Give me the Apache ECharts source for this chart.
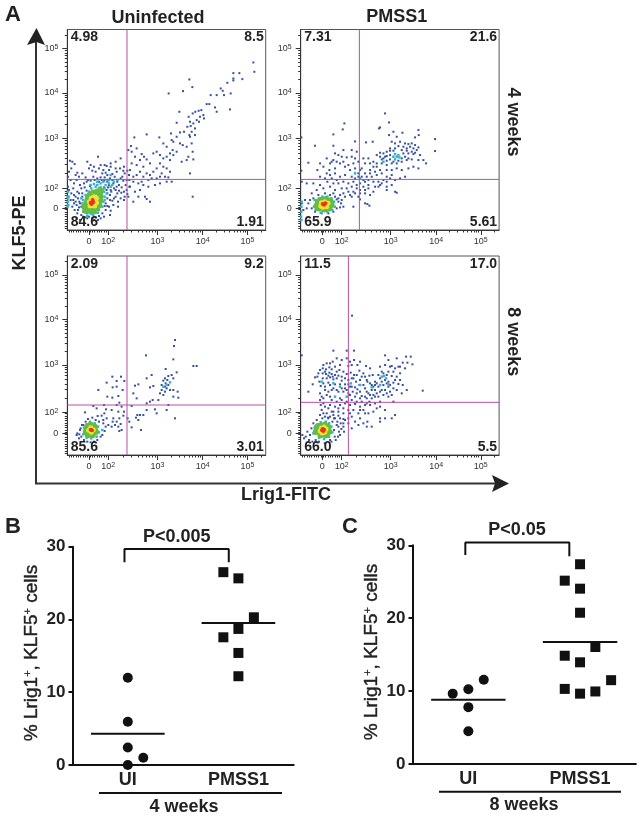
<!DOCTYPE html>
<html><head><meta charset="utf-8">
<script src="https://cdn.jsdelivr.net/npm/echarts@6/dist/echarts.min.js"></script>
<style>html,body{margin:0;padding:0;background:#fff}#c{width:641px;height:818px;filter:blur(0.35px)}</style></head>
<body><div id="c"></div>
<script>
// ---------- Panel A: flow cytometry, values are display channels on the biexponential scale
const p1Blue=[[558,503],[561,475],[525,453],[516,471],[498,471],[498,455],[498,449],[480,442],[366,452],[375,429],[347,417],[304,410],[460,425],[466,418],[470,405],[448,405],[430,405],[490,410],[488,362],[443,368],[448,355],[418,378],[426,378],[402,360],[394,358],[384,355],[376,350],[364,340],[368,325],[336,355],[328,322],[408,345],[398,340],[388,330],[378,320],[370,312],[360,310],[410,335],[395,325],[383,305],[373,295],[366,285],[350,295],[338,293],[328,280],[311,290],[313,270],[318,265],[338,260],[346,255],[358,250],[368,280],[383,285],[373,260],[376,235],[363,220],[378,212],[358,210],[343,205],[316,240],[308,230],[298,250],[288,260],[276,278],[238,287],[201,278],[191,252],[183,240],[193,235],[208,245],[223,228],[230,220],[238,212],[218,210],[203,220],[193,200],[208,195],[228,190],[248,200],[258,230],[268,235],[278,225],[288,215],[298,220],[308,210],[318,225],[328,235],[278,200],[288,190],[298,185],[308,175],[268,185],[258,175],[248,165],[238,170],[228,160],[218,175],[208,165],[198,160],[188,180],[278,160],[293,160],[303,158],[268,155],[253,155],[283,170],[243,150],[223,145],[313,145],[298,145],[278,140],[263,135],[243,130],[228,135],[213,140],[198,145],[188,130],[203,115],[218,120],[233,100],[248,85],[238,93],[213,100],[198,85],[183,100],[376,100],[368,170],
[8,208],[15,205],[22,198],[60,205],[92,220],[70,195],[100,195],[112,195],[118,192],[130,200],[145,205],[160,215],[170,190],[5,175],[12,185],[25,165],[30,172],[65,185],[75,178],[85,175],[105,170],[115,172],[125,180],[135,168],[148,175],[158,185],[172,170],[180,178],[185,165],[2,160],[10,150],[28,150],[55,158],[62,150],[78,160],[90,155],[95,145],[103,150],[112,158],[120,145],[128,155],[135,150],[142,160],[150,145],[160,155],[168,148],[178,150],[186,150],[2,130],[5,120],[18,125],[30,115],[38,135],[45,110],[52,128],[58,118],[68,132],[110,128],[118,120],[125,135],[132,115],[140,125],[148,130],[155,118],[163,128],[170,115],[178,120],[186,130],[4,100],[10,90],[20,105],[25,85],[32,95],[38,80],[45,100],[120,95],[128,105],[135,88],[145,100],[152,85],[160,95],[172,100],[180,108],[15,70],[22,60],[30,50],[35,68],[42,45],[48,55],[55,38],[65,40],[75,35],[85,38],[95,42],[105,50],[115,60],[120,72],[130,58],[100,35],[28,35],[38,30],
[35,110],[42,125],[50,140],[58,145],[70,148],[82,150],[100,158],[110,148],[122,128],[130,120],[118,110],[128,90],[115,80],[125,70],[112,72],[42,70],[36,85],[28,75],[32,60],[48,40],[60,35],[80,30],[92,30],[110,40],[20,80],[12,110],[25,100],[18,90],[138,140],[145,120],[155,135],[165,160],[175,135],[150,110],[162,112],[140,95],[170,90],[138,75],[152,70],[128,45],[20,140],[35,160],[45,170],[80,190],[95,185],[108,180],[120,165],[130,190],[145,185],[168,178]];
const p1Cyan=[[55,60],[60,50],[50,75],[48,90],[55,105],[65,115],[72,125],[85,130],[95,125],[105,120],[105,100],[108,85],[100,72],[95,60],[85,52],[72,48],[100,140],[115,135],[130,130],[90,145],[125,150],[2,95],[3,75],[1,70],[2,85],[1,100],[2,115],
[90,135],[100,128],[110,115],[112,100],[112,125],[120,110],[80,138],[70,135],[45,80],[42,95],[50,60],[60,42],[78,45],[92,52],[105,70],[112,90],[125,140],[135,135],[140,145],[108,145],[118,150],[130,165],[150,150]];
const p1Green=[[60,65],[58,80],[62,95],[68,105],[78,112],[90,115],[98,105],[98,90],[95,75],[88,65],[78,58],[68,58],[52,70],[55,58],[100,118]];
const p1Yellow=[[68,72],[66,85],[72,95],[80,100],[88,95],[88,82],[82,72]];
const p1Red=[[73,78],[78,84],[70,82],[76,90]];

const p2Blue=[[253,350],[131,320],[126,302],[265,323],[235,305],[238,308],[353,300],[98,287],[2,278],[403,273],[403,237],[354,285],[343,278],[305,292],[288,280],[278,295],[265,285],[216,265],[196,263],[163,266],[43,253],[98,253],[273,265],[283,260],[298,265],[313,260],[323,258],[333,260],[343,255],[328,250],[338,245],[348,240],[318,245],[308,250],[283,245],[268,245],[258,235],[248,230],[238,232],[228,225],[238,220],[253,220],[268,225],[308,230],[323,230],[338,228],[358,225],[368,210],[376,200],[353,210],[333,212],[318,210],[303,205],[288,200],[273,200],[258,195],[243,200],[228,200],[218,205],[208,200],[193,200],[323,185],[338,190],[353,185],[303,180],[288,185],[273,180],[258,180],[238,180],[223,175],[208,180],[193,170],[183,185],[103,230],[113,225],[123,220],[138,218],[153,220],[163,215],[98,210],[108,205],[118,200],[88,200],[58,200],[23,202],[50,180],[86,180],[103,185],[133,190],[148,180],[163,185],[173,170],[178,180],[88,165],[103,170],[118,160],[133,165],[153,160],[163,155],[173,160],[183,160],[58,160],[73,155],[2,178],[3,145],[18,140],[38,140],[80,145],[98,140],[113,140],[128,145],[143,140],[158,145],[178,140],[193,145],[203,150],[218,145],[233,145],[243,140],[258,145],[268,155],[283,150],[298,155],[313,160],[68,125],[88,130],[103,120],[123,125],[138,125],[153,130],[168,125],[188,130],[203,125],[223,130],[238,135],[258,130],[273,135],[283,115],[288,112],[258,120],[178,110],[163,110],[148,105],[193,110],[208,105],[173,100],[178,92],[158,70],[193,80],[206,73],[200,78],[153,100],[133,100],[123,90],[113,95],[118,105],[28,90],[33,65],[23,80],[38,95],[43,55],[53,105],[63,50],[73,110],[83,50],[88,105],[98,55],[103,100],[108,65],[113,85],[121,80],[3,80],[8,60],[13,90],[18,65],
[248,215],[258,208],[268,212],[278,205],[293,208],[303,215],[313,220],[323,215],[333,235],[343,232],[353,248],[318,238],[303,240],[293,252],[278,238],[268,238],[258,222],[243,212],[228,190],[218,190],[208,170],[198,160],[188,150],[213,160],[228,165],[243,170],[258,160],[273,165],[248,150],[233,130],[218,115],[203,135],[193,120],[178,120],[168,135],[158,115],[143,115],[128,110],[108,150],[93,155],[78,170],[68,190],[78,215],[93,205],[128,205],[143,195],[158,200],[173,205],[188,215],[203,215],[168,235],[153,240],[128,240],[33,110],[48,120],[58,135],[98,110],[108,92],[128,70],[118,68]];
const p2Cyan=[[283,228],[288,220],[293,225],[278,220],[296,218],[283,212],[40,70],[42,90],[45,60],[55,95],[65,100],[80,100],[92,95],[100,85],[102,70],[95,60],[80,55],[60,52],[2,55],[2,30],[1,40],[163,170],[178,155],[248,205],[2,70],[3,85]];
const p2Green=[[48,72],[52,85],[62,90],[75,92],[88,88],[92,76],[85,65],[70,62],[55,65]];
const p2Yellow=[[60,72],[62,82],[72,85],[82,80],[78,70],[66,68]];
const p2Red=[[70,76],[74,80],[66,78]];

const p3Blue=[[323,345],[320,327],[236,299],[318,287],[378,267],[388,267],[295,258],[328,248],[313,240],[303,237],[293,230],[318,230],[300,225],[288,223],[295,215],[283,210],[303,210],[293,205],[298,200],[308,195],[318,195],[283,195],[278,185],[293,190],[331,190],[288,180],[318,175],[333,172],[273,165],[303,150],[298,135],[323,110],[253,240],[238,230],[213,212],[203,208],[258,207],[248,203],[198,185],[208,170],[238,155],[248,160],[256,165],[193,147],[263,137],[268,125],[238,135],[228,120],[218,120],[210,120],[206,112],[186,100],[193,83],[213,105],[221,75],[181,110],[135,235],[161,235],[148,222],[171,222],[118,217],[136,203],[148,205],[166,195],[93,195],[120,175],[153,177],[135,172],[156,157],[148,150],[110,150],[78,147],[88,140],[163,145],[116,137],[133,135],[153,130],[170,130],[53,128],[111,125],[103,118],[91,117],[118,110],[138,110],[156,110],[168,118],[108,105],[136,100],[148,100],[160,93],[108,95],[133,85],[153,85],[163,75],[156,72],[123,90],[143,90],[28,60],[38,75],[36,62],[48,90],[68,100],[30,65],[35,50],[40,80],[44,90],[50,45],[55,100],[62,108],[70,38],[80,40],[90,45],[95,100],[105,60],[112,72],[115,85],[100,55],[42,55],[60,40],[85,105],[75,112]];
const p3Cyan=[[48,62],[50,82],[58,92],[68,98],[82,95],[92,85],[95,68],[88,55],[72,50],[58,52],[105,75],[298,210],[308,218],[288,205]];
const p3Green=[[56,70],[60,84],[70,90],[82,84],[85,70],[75,60],[62,60]];
const p3Yellow=[[64,74],[70,82],[78,76],[72,68]];
const p3Red=[[70,76],[74,74]];

const p4Blue=[[154,418],[98,313],[138,313],[160,313],[3,299],[253,299],[316,295],[330,295],[288,290],[335,272],[320,277],[306,277],[366,193],[263,285],[293,265],[283,260],[273,267],[68,270],[78,275],[88,275],[96,280],[108,290],[123,285],[138,290],[148,280],[160,285],[178,280],[66,260],[76,257],[86,263],[93,257],[103,265],[118,270],[143,267],[153,270],[170,270],[196,267],[208,260],[43,233],[50,235],[66,245],[76,243],[86,247],[93,243],[103,240],[116,255],[128,250],[138,243],[150,247],[160,240],[176,253],[188,245],[36,212],[56,220],[66,230],[78,230],[88,233],[98,227],[108,230],[123,223],[133,212],[143,212],[153,230],[166,220],[178,225],[193,235],[206,238],[216,240],[60,207],[68,215],[83,217],[103,212],[118,212],[133,200],[148,205],[163,203],[176,210],[188,210],[200,220],[213,210],[223,220],[23,190],[58,185],[73,195],[83,190],[98,200],[113,190],[128,190],[143,185],[156,190],[170,197],[183,177],[198,190],[213,195],[58,165],[68,170],[88,175],[118,170],[148,180],[163,175],[178,170],[193,175],[208,180],[223,175],[238,265],[253,270],[268,265],[298,265],[313,260],[233,240],[248,245],[258,240],[273,237],[288,235],[298,225],[238,230],[253,225],[263,220],[278,217],[293,213],[306,210],[318,195],[223,210],[233,205],[248,210],[263,205],[278,200],[288,195],[303,185],[223,195],[238,190],[253,195],[268,190],[218,180],[233,175],[248,180],[263,175],[278,160],[238,160],[223,155],[198,155],[206,160],[60,150],[73,145],[88,150],[103,145],[118,150],[133,155],[148,150],[163,153],[178,145],[193,150],[208,150],[238,145],[253,135],[63,135],[78,125],[93,130],[113,130],[128,125],[148,125],[178,135],[193,125],[238,110],[238,100],[253,110],[273,110],[283,120],[58,120],[73,115],[88,115],[103,110],[118,110],[133,105],[153,115],[178,110],[188,95],[198,85],[213,85],[200,100],[143,95],[153,80],[128,95],[113,85],[28,60],[32,80],[38,95],[45,45],[48,105],[55,40],[65,110],[72,35],[82,112],[88,45],[95,100],[102,55],[108,90],[115,70],[122,78],[10,50],[5,60],[15,55],[100,75],[118,60],[128,85],[130,70],
[53,245],[58,255],[73,250],[83,238],[96,235],[108,250],[113,238],[123,235],[133,230],[143,225],[158,230],[168,240],[183,235],[198,225],[208,215],[218,205],[228,215],[243,220],[258,215],[268,210],[283,225],[243,250],[263,250],[278,250],[298,245],[73,205],[88,210],[93,195],[108,195],[123,200],[138,195],[153,205],[168,185],[178,190],[193,200],[203,185],[213,170],[228,185],[243,195],[258,185],[273,180],[63,175],[78,180],[93,165],[108,160],[123,165],[138,160],[153,165],[168,160],[183,160],[198,170],[68,155],[83,140],[98,130],[113,140],[128,140],[143,135],[158,135],[173,125],[188,135],[203,125],[218,130],[228,140],[68,125],[83,110],[98,120],[113,118],[128,108],[143,110],[163,100],[173,90],[20,70],[25,45],[35,40],[92,40],[105,45],[112,55],[120,95],[110,100],[100,110]];
const p4Cyan=[[243,235],[250,237],[256,230],[238,210],[263,212],[213,203],[178,210],[98,215],[63,220],[103,175],[138,175],[38,65],[42,82],[50,92],[60,98],[75,100],[85,95],[92,85],[95,68],[85,55],[70,48],[55,52],[150,215],[118,205]];
const p4Green=[[46,70],[50,84],[60,88],[72,90],[82,84],[85,70],[76,60],[60,60]];
const p4Yellow=[[58,72],[62,80],[70,84],[76,78],[72,68],[64,66]];
const p4Red=[[66,78],[68,72],[64,74],[70,76]];

const xTickChannels=[65,123,270,406,540];
const yTickChannelsTop=[65,125,275,412,545];
const yTickChannelsBottom=[65,128,270,407,540];
const tickLabels=['0','10{s|2}','10{s|3}','10{s|4}','10{s|5}'];
const gateX=[179,176,179,143];
const gateY=[152,152,150,158];
const quadrantValues=[['4.98','8.5','84.6','1.91'],['7.31','21.6','65.9','5.61'],['2.09','9.2','85.6','3.01'],['11.5','17.0','66.0','5.5']];

// ---------- Panels B, C: dot plots
const groupNames=['UI','PMSS1'];
const bUI=[[1,12],[1,5.95],[1,2.4],[1.14,1],[1,0]];
const bPMSS1=[[1.864,26.5],[2,25.65],[2.14,20.3],[2,18.7],[1.864,17.55],[2,15.4],[2,12.2]];
const bMeans=[4.3,19.5];
const cUI=[[0.86,9.65],[1,10.25],[1.138,11.55],[1,7.8],[1,4.5]];
const cPMSS1=[[2,27.4],[1.863,25.15],[2,24.05],[2,20.75],[2.137,16.05],[1.863,14.85],[2,13.95],[2.278,11.5],[1.863,10.3],[2.137,9.95],[2,9.65]];
const cMeans=[8.8,16.75];
const yTicksDot=[0,10,20,30];

// ---------- Layout
const colors={blue:'#35519f',cyan:'#3db0c8',green:'#63bd45',yellow:'#eee32f',red:'#e8351f'};
const panels=[
 {l:67.3,t:29.5,w:198.4,h:200.5,ymax:602,yt:yTickChannelsTop,d:[p1Blue,p1Cyan,p1Green,p1Yellow,p1Red]},
 {l:300.7,t:29.5,w:198.4,h:200.5,ymax:602,yt:yTickChannelsTop,d:[p2Blue,p2Cyan,p2Green,p2Yellow,p2Red]},
 {l:67.3,t:256,w:198.4,h:199,ymax:597,yt:yTickChannelsBottom,d:[p3Blue,p3Cyan,p3Green,p3Yellow,p3Red]},
 {l:300.7,t:256,w:198.4,h:199,ymax:597,yt:yTickChannelsBottom,d:[p4Blue,p4Cyan,p4Green,p4Yellow,p4Red]}
];
function minor(m,max){
  const o=[];
  for(let c=5;c<m[1];c+=7)o.push(c);
  for(let i=1;i<m.length-1;i++)for(let k=2;k<10;k++)o.push(m[i]+(m[i+1]-m[i])*Math.log10(k));
  for(let k=2;k<7;k++){const v=m[4]+(m[4]-m[3])*Math.log10(k);if(v<max)o.push(v);}
  return o;
}
const XMAX=595;
const grid=[],xAxis=[],yAxis=[],series=[],graphic=[];
const lineStyle={color:'#333',width:1};
panels.forEach((p,i)=>{
  grid.push({left:p.l,top:p.t,width:p.w,height:p.h,show:true,backgroundColor:'transparent',borderColor:'#555',borderWidth:1});
  xAxis.push({gridIndex:i,type:'value',min:0,max:XMAX,position:'bottom',splitLine:{show:false},axisLine:{show:true,onZero:false,lineStyle},axisLabel:{show:false},
    axisTick:{show:true,length:2.5,lineStyle,customValues:minor(xTickChannels,XMAX)}});
  yAxis.push({gridIndex:i,type:'value',min:0,max:p.ymax,position:'left',splitLine:{show:false},axisLine:{show:true,onZero:false,lineStyle},axisLabel:{show:false},
    axisTick:{show:true,length:2.5,lineStyle,customValues:minor(p.yt,p.ymax)}});
  const layers=[['rect',2,colors.blue],['rect',2.5,colors.cyan],['circle',6.5,colors.green],['circle',5,colors.yellow],['circle',4,colors.red]];
  layers.forEach((ly,j)=>series.push({type:'scatter',xAxisIndex:i,yAxisIndex:i,data:p.d[j],symbol:ly[0],symbolSize:ly[1],itemStyle:{color:ly[2],opacity:1},silent:true,z:3+j}));
  const gate={type:'line',xAxisIndex:i,yAxisIndex:i,showSymbol:false,silent:true,z:9,lineStyle:{color:'#b84fa8',width:1}};
  series.push({...gate,data:[[gateX[i],0],[gateX[i],p.ymax]]});
  series.push({...gate,data:[[0,gateY[i]],[XMAX,gateY[i]]]});
  const q=quadrantValues[i],f='bold 14px "Liberation Sans",Arial,sans-serif';
  [[p.l+3.5,p.t+8,'left',q[0]],[p.l+p.w-2,p.t+8,'right',q[1]],[p.l+3.5,p.t+p.h-7.5,'left',q[2]],[p.l+p.w-2,p.t+p.h-7.5,'right',q[3]]].forEach(a=>
    graphic.push({type:'text',x:a[0],y:a[1],z:20,style:{text:a[3],font:f,fill:'#222',align:a[2],verticalAlign:'middle'}}));
});
panels.forEach((p,i)=>{
  const g=i+4, lab={show:true,color:'#333',fontSize:9,fontFamily:'"Liberation Sans",Arial,sans-serif',rich:{s:{fontSize:7,verticalAlign:'top',color:'#333',padding:[0,0,3,0]}}};
  grid.push({left:p.l,top:p.t,width:p.w,height:p.h});
  xAxis.push({gridIndex:g,type:'value',min:0,max:XMAX,position:'bottom',splitLine:{show:false},axisLine:{show:false},
    axisTick:{show:true,length:5,lineStyle,customValues:xTickChannels},
    axisLabel:{...lab,margin:7,customValues:xTickChannels,formatter:(v)=>tickLabels[xTickChannels.indexOf(v)]}});
  yAxis.push({gridIndex:g,type:'value',min:0,max:p.ymax,position:'left',splitLine:{show:false},axisLine:{show:false},
    axisTick:{show:true,length:5,lineStyle,customValues:p.yt},
    axisLabel:{...lab,margin:9,customValues:p.yt,formatter:(v)=>tickLabels[p.yt.indexOf(v)]}});
});

const FONT='"Liberation Sans",Arial,sans-serif';
const dots=[
 {l:72.5,t:546.7,w:221.2,h:218.3,ui:bUI,pm:bPMSS1,means:bMeans,br:[[0.97,27.85],[0.97,29.7],[1.913,29.7],[1.913,27.85]]},
 {l:412.5,t:545.3,w:223.4,h:218.7,ui:cUI,pm:cPMSS1,means:cMeans,br:[[0.973,28.67],[0.973,30.4],[1.904,30.4],[1.904,28.5]]}
];
dots.forEach((d,k)=>{
  const g=8+k, black='#111';
  grid.push({left:d.l,top:d.t,width:d.w,height:d.h});
  xAxis.push({gridIndex:g,type:'value',min:0.5,max:2.5,position:'bottom',splitLine:{show:false},axisLine:{show:true,onZero:false,lineStyle:{color:black,width:2}},
    axisTick:{show:false},axisLabel:{show:true,margin:6,color:'#222',fontWeight:'bold',fontSize:18,fontFamily:FONT,customValues:[1,2],formatter:v=>groupNames[v-1]}});
  yAxis.push({gridIndex:g,type:'value',min:0,max:30,interval:10,position:'left',splitLine:{show:false},axisLine:{show:true,onZero:false,lineStyle:{color:black,width:2}},
    axisTick:{show:true,length:4,lineStyle:{color:black,width:2},customValues:yTicksDot},axisLabel:{color:'#222',fontWeight:'bold',fontSize:17,margin:7,fontFamily:FONT,customValues:yTicksDot}});
  series.push({type:'scatter',xAxisIndex:g,yAxisIndex:g,data:d.ui,symbol:'circle',symbolSize:10,itemStyle:{color:black,opacity:1},clip:false,silent:true,z:5});
  series.push({type:'scatter',xAxisIndex:g,yAxisIndex:g,data:d.pm,symbol:'rect',symbolSize:10,itemStyle:{color:black,opacity:1},clip:false,silent:true,z:5});
  const ln={type:'line',xAxisIndex:g,yAxisIndex:g,showSymbol:false,silent:true,clip:false,z:6,lineStyle:{color:black,width:2}};
  series.push({...ln,data:[[0.667,d.means[0]],[1.333,d.means[0]]]});
  series.push({...ln,data:[[1.667,d.means[1]],[2.333,d.means[1]]]});
  series.push({...ln,data:d.br});
});

// ---------- Text and frame annotation
function T(text,x,y,size,opt){opt=opt||{};graphic.push({type:'text',x,y,rotation:opt.r||0,z:20,style:{text,font:(opt.w||'bold')+' '+size+'px '+FONT,fill:opt.c||'#222',align:'center',verticalAlign:'middle',rich:opt.rich}});}
T('A',13,15,22);T('B',13,527,22);T('C',350,527,22);
T('Uninfected',158,18,18);T('PMSS1',396.7,17,18);
T('4 weeks',512.7,122,18,{r:-Math.PI/2});T('8 weeks',512.7,341.7,18,{r:-Math.PI/2});
T('KLF5-PE',20,233,18,{r:Math.PI/2});T('Lrig1-FITC',286,495,18);
T('P<0.005',176.7,537,18);T('P<0.05',517,530,18);
T('4 weeks',184,807,18);T('8 weeks',524,805,18);
const supRich={s:{font:'normal 11px '+FONT,fill:'#222',verticalAlign:'top',stroke:'#222',lineWidth:0.3},b:{font:'normal 19px '+FONT,fill:'#222',stroke:'#222',lineWidth:0.4}};
T('{b|% Lrig1}{s|+}{b|, KLF5}{s|+}{b| cells}',32,653,19,{r:Math.PI/2,w:'normal',rich:supRich});
T('{b|% Lrig1}{s|+}{b|, KLF5}{s|+}{b| cells}',372,652,19,{r:Math.PI/2,w:'normal',rich:supRich});
const S={stroke:'#333',lineWidth:2};
graphic.push({type:'polyline',z:15,shape:{points:[[36,42],[36,483.5],[495,483.5]]},style:{...S,fill:'none'}});
graphic.push({type:'polygon',z:15,shape:{points:[[36.5,28],[45,45],[36.5,42],[27,45]]},style:{fill:'#222'}});
graphic.push({type:'polygon',z:15,shape:{points:[[509,483.5],[492,475],[495,483.5],[492,492]]},style:{fill:'#222'}});
graphic.push({type:'line',z:15,shape:{x1:99,y1:793,x2:282,y2:793},style:{stroke:'#111',lineWidth:2}});
graphic.push({type:'line',z:15,shape:{x1:439,y1:791.7,x2:621,y2:791.7},style:{stroke:'#111',lineWidth:2}});

const chart=echarts.init(document.getElementById('c'),null,{renderer:'canvas',width:641,height:818});
chart.setOption({animation:false,backgroundColor:'#fff',grid,xAxis,yAxis,series,graphic});
</script></body></html>
